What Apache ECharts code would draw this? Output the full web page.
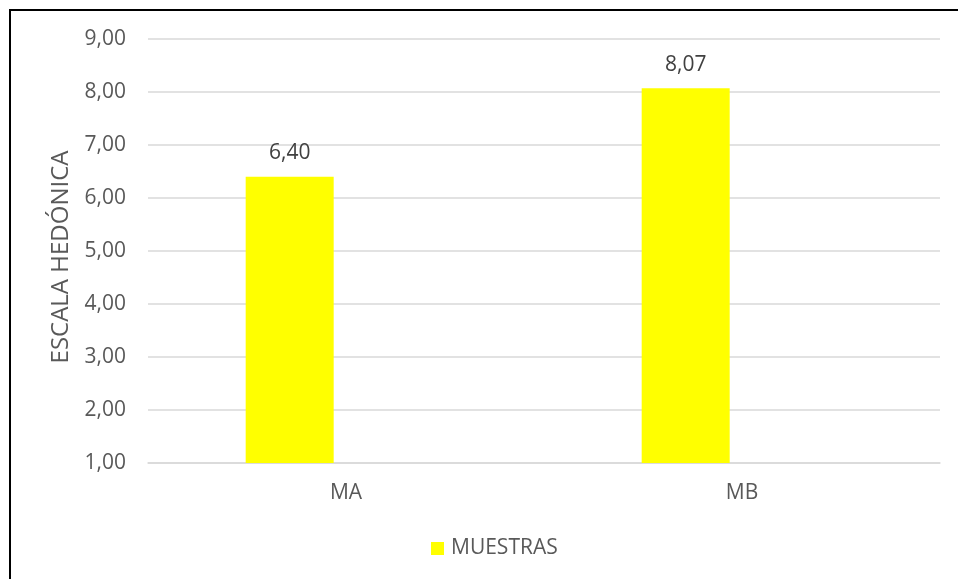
<!DOCTYPE html>
<html>
<head>
<meta charset="utf-8">
<script src="https://cdn.jsdelivr.net/npm/echarts@6/dist/echarts.min.js"></script>
<style>
html,body{margin:0;padding:0;background:#fff;}
#chart{width:958px;height:579px;}
</style>
</head>
<body>
<div id="chart"></div>
<script>
var categories = ['MA', 'MB'];
var muestras = [6.40, 8.07];
var seriesName = 'MUESTRAS';
var axisTitle = 'ESCALA HEDÓNICA';
var yMin = 1, yMax = 9, yStep = 1;

function fmt(v){ return Number(v).toFixed(2).replace('.', ','); }

var chart = echarts.init(document.getElementById('chart'), null, {renderer:'canvas'});
var FONT = '"Open Sans", sans-serif';
chart.setOption({
  animation: false,
  backgroundColor: '#fff',
  textStyle: { fontFamily: FONT },
  graphic: [{
    type: 'rect', silent: true, z: 100,
    shape: { x: 10, y: 10, width: 1200, height: 1200 },
    style: { fill: 'none', stroke: '#000', lineWidth: 2 }
  }],
  grid: { left: 148, right: 18, top: 39, bottom: 116 },
  legend: {
    data: [seriesName],
    left: 426, top: 533,
    icon: 'rect', itemWidth: 13, itemHeight: 13, itemGap: 10,
    textStyle: { color: '#595959', fontSize: 21, fontFamily: FONT, padding: [0,0,0,2] }
  },
  xAxis: {
    type: 'category', data: categories,
    axisLine: { show: true, lineStyle: { color: '#D9D9D9', width: 1.5 } },
    axisTick: { show: false },
    axisLabel: { color: '#595959', fontSize: 21, fontFamily: FONT, margin: 20 }
  },
  yAxis: {
    type: 'value', min: yMin, max: yMax, interval: yStep,
    name: axisTitle, nameLocation: 'middle', nameGap: 74, nameRotate: 90,
    nameTextStyle: { color: '#595959', fontSize: 24, fontFamily: FONT, padding: [0,12,0,0] },
    axisLine: { show: false }, axisTick: { show: false },
    axisLabel: { color: '#595959', fontSize: 21, fontFamily: FONT, margin: 22, formatter: fmt },
    splitLine: { lineStyle: { color: '#D9D9D9', width: 1.5 } }
  },
  series: [{
    name: seriesName, type: 'bar', data: muestras,
    barWidth: 88, barGap: '28%',
    itemStyle: { color: '#FFFF00' },
    label: { show: true, position: 'top', distance: 13, color: '#404040', fontSize: 21, fontFamily: FONT,
      formatter: function(p){ return fmt(p.value); } }
  }, {
    name: '_empty', type: 'bar', data: [null, null], barWidth: 88,
    itemStyle: { color: '#FFFF00' }
  }]
});
</script>
</body>
</html>
